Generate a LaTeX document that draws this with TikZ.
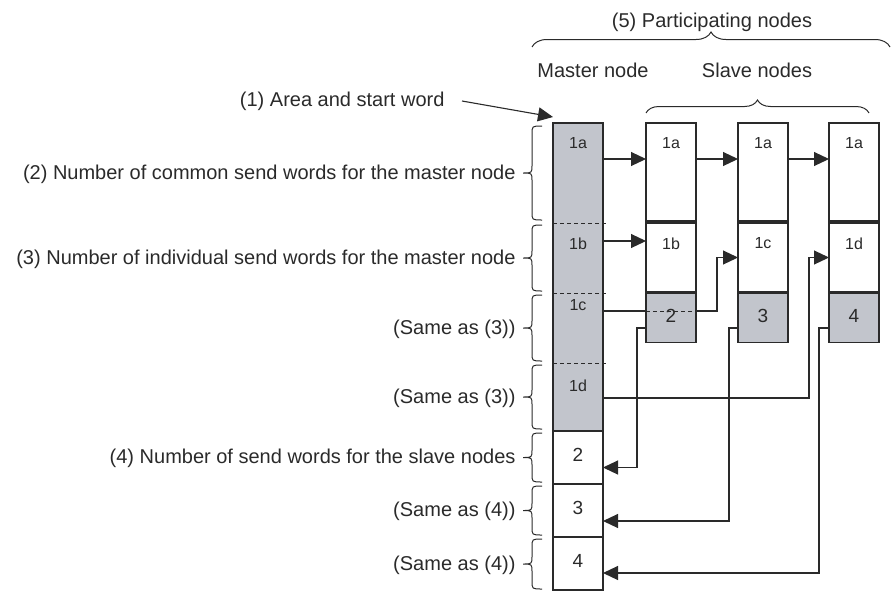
\documentclass[tikz,border=0pt]{standalone}
\usepackage{fontspec}
\setmainfont{Liberation Sans}
\usepackage{tikz}
\usetikzlibrary{arrows.meta,positioning,decorations.pathreplacing,backgrounds}
\definecolor{cellgray}{HTML}{C2C5CC}
\definecolor{inkgray}{HTML}{2A2A2A}
\tikzset{
  mem/cell/.style={draw=inkgray, line width=1.3pt, minimum width=50pt, inner sep=0pt, outer sep=0pt, font=\fontsize{19}{22}\selectfont, text depth=5pt},
  mem/shaded/.style={mem/cell, fill=cellgray},
  mem/area/.style={fill=cellgray, minimum width=50pt, inner sep=0pt, outer sep=0pt},
  mem/tag/.style={font=\fontsize{16}{19}\selectfont, anchor=north, yshift=-11.2pt},
  mem/split/.style={draw=inkgray, line width=0.9pt, dash pattern=on 4pt off 3pt},
  brc/.style={decorate, decoration={brace, amplitude=#1}, draw=inkgray, line width=1pt},
  brc/.default=12pt,
  bline/.style={draw=inkgray, line width=1pt},
  arr/.style={draw=inkgray, line width=1.1pt, -{Triangle[length=15pt,width=14pt]}}
}
% brace left of the master column: name, top, bottom, text
\newcommand{\sidebrace}[4]{%
  \pgfmathsetmacro{\bmid}{-(#2+#3)/2}
  \draw[bline] (542,-#2) .. controls (532,-#2) .. (532,-#2-8) -- (532,\bmid+8)
    .. controls (532,\bmid) .. (523,\bmid) .. controls (532,\bmid) .. (532,\bmid-8)
    -- (532,-#3+8) .. controls (532,-#3) .. (542,-#3);
  \node[anchor=east] (#1) at (519,\bmid-1) {#4};}

\begin{document}
\begin{tikzpicture}[x=1pt, y=1pt, font=\fontsize{20}{24}\selectfont, text=inkgray]
  \useasboundingbox (0,0) rectangle (891,-592);
  % master node column
  \node[mem/area, minimum height=100pt, label={[mem/tag]north:1a}] (m1a) at (578,-173) {};
  \node[mem/area, minimum height=70pt, below=0pt of m1a, label={[mem/tag]north:1b}] (m1b) {};
  \node[mem/area, minimum height=70pt, below=0pt of m1b, label={[mem/tag, yshift=8pt]north:1c}] (m1c) {};
  \node[mem/area, minimum height=68pt, below=0pt of m1c, label={[mem/tag, yshift=-2pt]north:1d}] (m1d) {};
  \draw[draw=inkgray, line width=1.3pt] (m1a.north west) rectangle (m1d.south east);
  \draw[mem/split] (m1a.south west) -- ([xshift=3pt]m1a.south east);
  \draw[mem/split] (m1b.south west) -- ([xshift=3pt]m1b.south east);
  \draw[mem/split] (m1c.south west) -- ([xshift=3pt]m1c.south east);
  \node[mem/cell, minimum height=53pt, below=0pt of m1d] (m2) {2};
  \node[mem/cell, minimum height=53pt, below=0pt of m2] (m3) {3};
  \node[mem/cell, minimum height=53pt, below=0pt of m3] (m4) {4};

  % slave node columns
  \node[mem/cell, minimum height=98pt, label={[mem/tag]north:1a}] (s1a) at (671,-172) {};
  \node[mem/cell, minimum height=98pt, right=42pt of s1a, label={[mem/tag]north:1a}] (s2a) {};
  \node[mem/cell, minimum height=98pt, right=41pt of s2a, label={[mem/tag]north:1a}] (s3a) {};
  \node[mem/cell, minimum height=69pt, below=2pt of s1a, label={[mem/tag]north:1b}] (s1b) {};
  \node[mem/cell, minimum height=69pt, below=2pt of s2a, label={[mem/tag]north:1c}] (s2b) {};
  \node[mem/cell, minimum height=69pt, below=2pt of s3a, label={[mem/tag]north:1d}] (s3b) {};
  \node[mem/shaded, minimum height=49pt, below=1.5pt of s1b] (s1n) {2};
  \node[mem/shaded, minimum height=49pt, below=1.5pt of s2b] (s2n) {3};
  \node[mem/shaded, minimum height=49pt, below=1.5pt of s3b] (s3n) {4};

  % connectors
  \draw[arr] ([yshift=14pt]m1a.east) -- ([yshift=13pt]s1a.west);
  \draw[arr] ([yshift=13pt]s1a.east) -- ([yshift=13pt]s2a.west);
  \draw[arr] ([yshift=13pt]s2a.east) -- ([yshift=13pt]s3a.west);
  \draw[arr] ([yshift=17pt]m1b.east) -- ([yshift=16.5pt]s1b.west);
  \begin{scope}[on background layer]
    \draw[arr] ([yshift=17pt]m1c.east) -- ++(114,0) |- (s2b.west);
  \end{scope}
  \draw[mem/split] ([yshift=7pt]s1n.west) -- ([yshift=7pt]s1n.east);
  \draw[arr] ([yshift=-1pt]m1d.east) -- ++(206,0) |- (s3b.west);
  \draw[arr] ([yshift=-10pt]s1n.west) -- ++(-9,0) |- ([yshift=-10pt]m2.east);
  \draw[arr] ([yshift=-10pt]s2n.west) -- ++(-9,0) |- ([yshift=-10.5pt]m3.east);
  \draw[arr] ([yshift=-10pt]s3n.west) -- ++(-10,0) |- ([yshift=-9.5pt]m4.east);

  % labels and braces
  \node[anchor=east] (lbl1) at (448,-101) {(1) Area and start word};
  \draw[arr] ([xshift=14pt]lbl1.east) -- ([yshift=6pt]m1a.north west);
  \sidebrace{lbl2}{126}{220}{(2) Number of common send words for the master node}
  \sidebrace{lbl3}{225}{291}{(3) Number of individual send words for the master node}
  \sidebrace{lbl3c}{295}{361}{(Same as (3))}
  \sidebrace{lbl3d}{365}{429}{(Same as (3))}
  \sidebrace{lbl4}{433}{482}{(4) Number of send words for the slave nodes}
  \sidebrace{lbl4b}{486}{535}{(Same as (4))}
  \sidebrace{lbl4c}{539}{589}{(Same as (4))}

  \node[anchor=base] (ttl) at (712,-27) {(5) Participating nodes};
  \draw[brc=15pt] (532,-47) -- (890,-47);
  \node[anchor=base] (mst) at (593,-77) {Master node};
  \node[anchor=base] (slv) at (757,-77) {Slave nodes};
  \draw[brc=13pt] ([yshift=10pt]s1a.north west) -- ([xshift=-10pt,yshift=10pt]s3a.north east);
\end{tikzpicture}
\end{document}
